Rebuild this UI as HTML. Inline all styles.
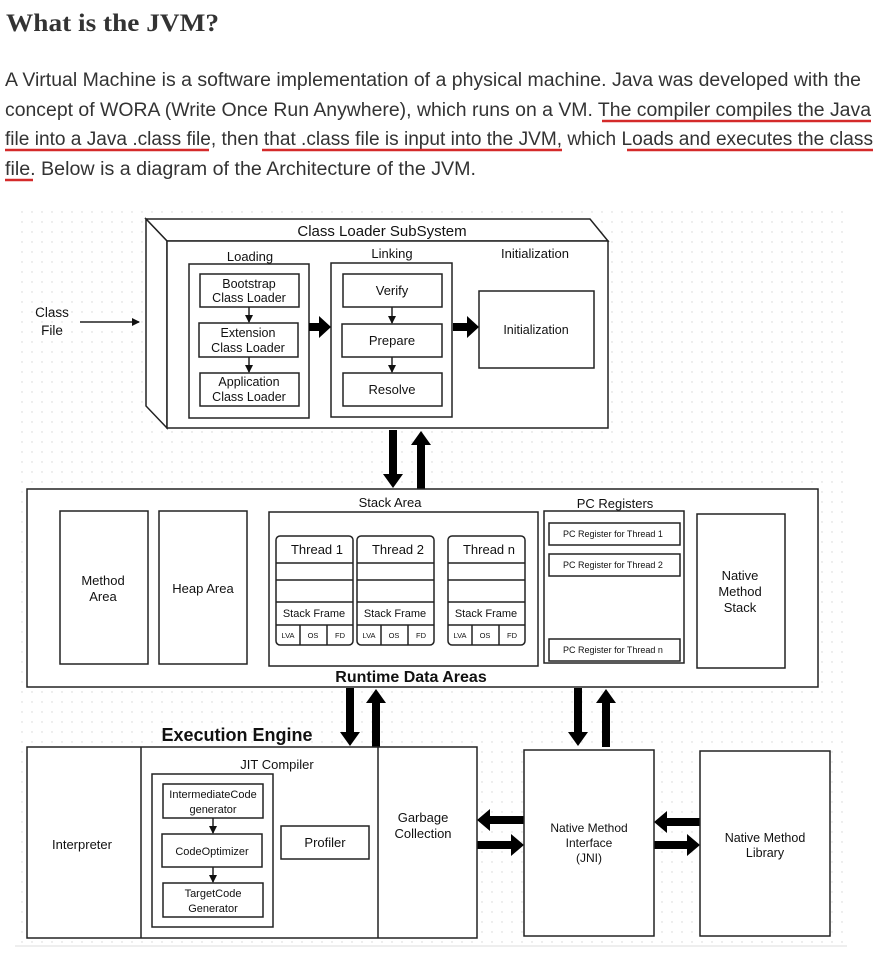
<!DOCTYPE html>
<html><head><meta charset="utf-8"><style>
html,body{margin:0;padding:0;background:#fff;width:891px;height:956px;overflow:hidden}
svg{display:block}
.t{font-family:"Liberation Sans",Arial,sans-serif;fill:#111}
.b{fill:#fff;stroke:#222;stroke-width:1.5}
.n{fill:none;stroke:#222;stroke-width:1.5}
</style></head><body>
<svg width="891" height="956" viewBox="0 0 891 956" xmlns="http://www.w3.org/2000/svg">
<defs>
<pattern id="dots" width="10" height="10" patternUnits="userSpaceOnUse"><circle cx="2" cy="2" r="0.7" fill="#d4d4d4"/></pattern>
<marker id="ah" markerWidth="8" markerHeight="8" refX="7" refY="4" orient="auto" markerUnits="userSpaceOnUse"><path d="M0,0 L8,4 L0,8 Z" fill="#111"/></marker>
</defs>
<text x="6" y="31" font-family="'Liberation Serif',serif" font-weight="bold" font-size="25" fill="#333" textLength="213" lengthAdjust="spacingAndGlyphs">What is the JVM?</text>
<g font-family="'Liberation Sans',sans-serif" font-size="19" fill="#333">
<text x="5" y="86" textLength="856" lengthAdjust="spacingAndGlyphs">A Virtual Machine is a software implementation of a physical machine. Java was developed with the</text>
<text x="5" y="116" textLength="866" lengthAdjust="spacingAndGlyphs">concept of WORA (Write Once Run Anywhere), which runs on a VM. The compiler compiles the Java</text>
<text x="5" y="145" textLength="868" lengthAdjust="spacingAndGlyphs">file into a Java .class file, then that .class file is input into the JVM, which Loads and executes the class</text>
<text x="5" y="175" textLength="471" lengthAdjust="spacingAndGlyphs">file. Below is a diagram of the Architecture of the JVM.</text>
</g>
<g stroke="#d42a2a" stroke-width="2.5">
<line x1="602" y1="121" x2="871" y2="121"/>
<line x1="5" y1="150" x2="209" y2="150"/>
<line x1="262" y1="150" x2="562" y2="150"/>
<line x1="627" y1="150" x2="873" y2="150"/>
<line x1="5" y1="180" x2="33" y2="180"/>
</g>
<rect x="15" y="205" width="832" height="740" fill="url(#dots)"/>
<line x1="15" y1="946" x2="847" y2="946" stroke="#eee" stroke-width="2"/>

<!-- Class loader 3D -->
<polygon points="146,219 590,219 608,241 167,241" fill="#fff" stroke="#222" stroke-width="1.5"/>
<polygon points="146,219 167,241 167,428 146,406" fill="#fff" stroke="#222" stroke-width="1.5"/>
<rect class="b" x="167" y="241" width="441" height="187"/>
<text class="t" x="382" y="236" font-size="15" text-anchor="middle">Class Loader SubSystem</text>
<text class="t" x="250" y="261" font-size="13" text-anchor="middle">Loading</text>
<text class="t" x="392" y="258" font-size="13" text-anchor="middle">Linking</text>
<text class="t" x="535" y="258" font-size="13" text-anchor="middle">Initialization</text>
<rect class="b" x="189" y="264" width="120" height="154"/>
<rect class="b" x="200" y="274" width="99" height="33"/>
<rect class="b" x="199" y="323" width="99" height="34"/>
<rect class="b" x="200" y="373" width="99" height="33"/>
<g class="t" font-size="12.5" text-anchor="middle">
<text x="249" y="288">Bootstrap</text><text x="249" y="302">Class Loader</text>
<text x="248" y="337">Extension</text><text x="248" y="352">Class Loader</text>
<text x="249" y="386">Application</text><text x="249" y="401">Class Loader</text>
</g>
<line x1="249" y1="307" x2="249" y2="322" class="n" marker-end="url(#ah)"/>
<line x1="249" y1="357" x2="249" y2="372" class="n" marker-end="url(#ah)"/>
<rect class="b" x="331" y="263" width="121" height="154"/>
<rect class="b" x="343" y="274" width="99" height="33"/>
<rect class="b" x="342" y="324" width="100" height="33"/>
<rect class="b" x="343" y="373" width="99" height="33"/>
<g class="t" font-size="13" text-anchor="middle">
<text x="392" y="295">Verify</text><text x="392" y="345">Prepare</text><text x="392" y="394">Resolve</text>
</g>
<line x1="392" y1="307" x2="392" y2="323" class="n" marker-end="url(#ah)"/>
<line x1="392" y1="357" x2="392" y2="372" class="n" marker-end="url(#ah)"/>
<rect class="b" x="479" y="291" width="115" height="77"/>
<text class="t" x="536" y="334" font-size="12.5" text-anchor="middle">Initialization</text>
<text class="t" x="52" y="317" font-size="13.5" text-anchor="middle">Class</text>
<text class="t" x="52" y="335" font-size="13.5" text-anchor="middle">File</text>
<line x1="80" y1="322" x2="139" y2="322" class="n" marker-end="url(#ah)"/>

<g fill="#000">
<polygon points="309,323 319,323 319,316 331,327 319,338 319,331 309,331"/>
<polygon points="453,323 467,323 467,316 479,327 467,338 467,331 453,331"/>
<polygon points="389,430 397,430 397,474 403,474 393,488 383,474 389,474"/>
<polygon points="417,489 425,489 425,445 431,445 421,431 411,445 417,445"/>
<polygon points="346,688 354,688 354,732 360,732 350,746 340,732 346,732"/>
<polygon points="372,747 380,747 380,703 386,703 376,689 366,703 372,703"/>
<polygon points="574,688 582,688 582,732 588,732 578,746 568,732 574,732"/>
<polygon points="602,747 610,747 610,703 616,703 606,689 596,703 602,703"/>
<polygon points="524,816 490,816 490,809 477,820 490,831 490,824 524,824"/>
<polygon points="477,841 511,841 511,834 524,845 511,856 511,849 477,849"/>
<polygon points="700,818 667,818 667,811 654,822 667,833 667,826 700,826"/>
<polygon points="654,841 687,841 687,834 700,845 687,856 687,849 654,849"/>
</g>

<!-- Runtime -->
<rect class="b" x="27" y="489" width="791" height="198"/>
<rect class="b" x="60" y="511" width="88" height="153"/>
<rect class="b" x="159" y="511" width="88" height="153"/>
<text class="t" x="103" y="585" font-size="13" text-anchor="middle">Method</text>
<text class="t" x="103" y="601" font-size="13" text-anchor="middle">Area</text>
<text class="t" x="203" y="593" font-size="13" text-anchor="middle">Heap Area</text>
<text class="t" x="390" y="507" font-size="13" text-anchor="middle">Stack Area</text>
<text class="t" x="615" y="508" font-size="13" text-anchor="middle">PC Registers</text>
<rect class="b" x="269" y="512" width="269" height="154"/>
<g id="th">
<rect class="b" x="276" y="536" width="77" height="109" rx="4"/>
<g class="n"><line x1="276" y1="563" x2="353" y2="563"/><line x1="276" y1="580" x2="353" y2="580"/><line x1="276" y1="602" x2="353" y2="602"/><line x1="276" y1="625" x2="353" y2="625"/><line x1="300" y1="625" x2="300" y2="645"/><line x1="327" y1="625" x2="327" y2="645"/></g>
<text class="t" x="314" y="617" font-size="11" text-anchor="middle">Stack Frame</text>
<g class="t" font-size="7.5" text-anchor="middle"><text x="288" y="638">LVA</text><text x="313" y="638">OS</text><text x="340" y="638">FD</text></g>
</g>
<use href="#th" x="81"/>
<use href="#th" x="172"/>
<g class="t" font-size="13" text-anchor="middle"><text x="317" y="554">Thread 1</text><text x="398" y="554">Thread 2</text><text x="489" y="554">Thread n</text></g>
<rect class="b" x="544" y="511" width="140" height="152"/>
<rect class="b" x="549" y="523" width="131" height="22"/>
<rect class="b" x="549" y="554" width="131" height="22"/>
<rect class="b" x="549" y="639" width="131" height="22"/>
<g class="t" font-size="9" text-anchor="middle"><text x="613" y="537">PC Register for Thread 1</text><text x="613" y="568">PC Register for Thread 2</text><text x="613" y="653">PC Register for Thread n</text></g>
<rect class="b" x="697" y="514" width="88" height="154"/>
<g class="t" font-size="13" text-anchor="middle"><text x="740" y="580">Native</text><text x="740" y="596">Method</text><text x="740" y="612">Stack</text></g>
<text class="t" x="411" y="682" font-size="16" font-weight="bold" text-anchor="middle">Runtime Data Areas</text>

<!-- Execution -->
<text class="t" x="237" y="741" font-size="18" font-weight="bold" text-anchor="middle">Execution Engine</text>
<rect class="b" x="27" y="747" width="450" height="191"/>
<line class="n" x1="141" y1="747" x2="141" y2="938"/>
<line class="n" x1="378" y1="747" x2="378" y2="938"/>
<text class="t" x="82" y="849" font-size="13" text-anchor="middle">Interpreter</text>
<text class="t" x="277" y="769" font-size="13" text-anchor="middle">JIT Compiler</text>
<rect class="b" x="152" y="774" width="121" height="153"/>
<rect class="b" x="163" y="784" width="100" height="34"/>
<rect class="b" x="162" y="834" width="100" height="33"/>
<rect class="b" x="163" y="883" width="100" height="34"/>
<g class="t" font-size="11" text-anchor="middle">
<text x="213" y="798">IntermediateCode</text><text x="213" y="813">generator</text>
<text x="212" y="855">CodeOptimizer</text>
<text x="213" y="897">TargetCode</text><text x="213" y="912">Generator</text>
</g>
<line x1="213" y1="818" x2="213" y2="833" class="n" marker-end="url(#ah)"/>
<line x1="213" y1="867" x2="213" y2="882" class="n" marker-end="url(#ah)"/>
<rect class="b" x="281" y="826" width="88" height="33"/>
<text class="t" x="325" y="847" font-size="13" text-anchor="middle">Profiler</text>
<text class="t" x="423" y="822" font-size="13" text-anchor="middle">Garbage</text>
<text class="t" x="423" y="838" font-size="13" text-anchor="middle">Collection</text>
<rect class="b" x="524" y="750" width="130" height="186"/>
<g class="t" font-size="12" text-anchor="middle"><text x="589" y="832">Native Method</text><text x="589" y="847">Interface</text><text x="589" y="862">(JNI)</text></g>
<rect class="b" x="700" y="751" width="130" height="185"/>
<g class="t" font-size="12.5" text-anchor="middle"><text x="765" y="842">Native Method</text><text x="765" y="857">Library</text></g>
</svg>
</body></html>
